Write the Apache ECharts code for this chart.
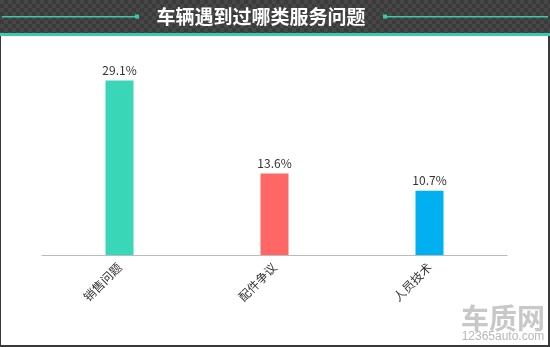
<!DOCTYPE html>
<html><head><meta charset="utf-8">
<script src="https://cdn.jsdelivr.net/npm/echarts@6/dist/echarts.min.js"></script>
<style>html,body{margin:0;padding:0;background:#fff}#c{width:550px;height:347px}</style>
</head><body><div id="c"></div>
<script>
const title = '车辆遇到过哪类服务问题';
const categories = ['销售问题', '配件争议', '人员技术'];
const values = [29.1, 13.6, 10.7];
const barColors = ['#3ad6b8', '#ff6666', '#00b0f0'];

const pat = document.createElement('canvas');
pat.width = 8; pat.height = 8;
const g = pat.getContext('2d');
g.fillStyle = '#3b3b3b'; g.fillRect(0,0,8,8);
g.fillStyle = '#474747'; g.fillRect(0,0,4,4); g.fillRect(4,4,4,4);

const chart = echarts.init(document.getElementById('c'), null, {renderer:'canvas'});
chart.setOption({
  animation: false,
  grid: {left: 42, right: 43, top: 75, bottom: 92},
  xAxis: {
    type: 'category', data: categories,
    axisLine: {lineStyle: {color: '#bbbbbb', width: 1}},
    axisTick: {show: false},
    axisLabel: {rotate: 45, color: '#333', fontSize: 12, margin: 10, fontFamily: 'Noto Sans CJK SC'}
  },
  yAxis: {type: 'value', min: 0, max: 30, show: false, splitLine: {show: false}},
  series: [{
    type: 'bar', barWidth: 28,
    data: values.map((v, i) => ({value: v, itemStyle: {color: barColors[i]}})),
    label: {show: true, position: 'top', color: '#333', fontSize: 12, fontFamily: 'Noto Sans CJK SC', formatter: p => p.value.toFixed(1) + '%', distance: 4}
  }],
  graphic: [
    {type: 'rect', shape: {x: 0, y: 0, width: 550, height: 33}, style: {fill: {image: pat, repeat: 'repeat'}}, silent: true},
    {type: 'rect', shape: {x: 0, y: 33, width: 550, height: 3}, style: {fill: '#3cc9ab'}},
    {type: 'rect', shape: {x: 0, y: 36, width: 1, height: 311}, style: {fill: '#3a3a3a'}},
    {type: 'rect', shape: {x: 548, y: 36, width: 2, height: 311}, style: {fill: '#3a3a3a'}},
    {type: 'rect', shape: {x: 0, y: 345, width: 550, height: 2}, style: {fill: '#3a3a3a'}},
    {type: 'rect', shape: {x: 2, y: 16, width: 134, height: 1.5}, style: {fill: '#3cc9ab'}},
    {type: 'rect', shape: {x: 135, y: 14.5, width: 4, height: 4}, style: {fill: '#3cc9ab'}},
    {type: 'rect', shape: {x: 386, y: 16, width: 162, height: 1.5}, style: {fill: '#3cc9ab'}},
    {type: 'rect', shape: {x: 383, y: 14.5, width: 4, height: 4}, style: {fill: '#3cc9ab'}},
    {type: 'text', x: 261, y: 17, style: {text: title, fill: '#fff', font: 'bold 19px "Noto Sans CJK SC"', align: 'center', verticalAlign: 'middle'}},
    {type: 'text', x: 503, y: 318, style: {text: '车质网', fill: '#c8c8c8', font: 'bold 28px "Noto Sans CJK SC"', align: 'center', verticalAlign: 'middle'}},
    {type: 'text', x: 503, y: 337, style: {text: '12365auto.com', fill: '#b8b8b8', font: '12px "Liberation Sans"', align: 'center', verticalAlign: 'middle'}}
  ]
});
</script></body></html>
